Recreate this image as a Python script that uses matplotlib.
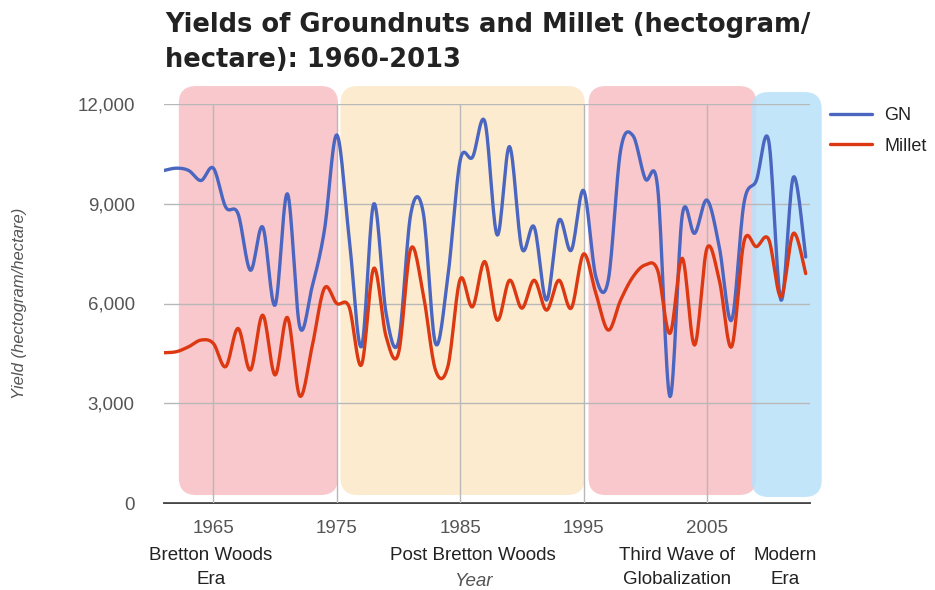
import numpy as np
import matplotlib
matplotlib.use("Agg")
import matplotlib.pyplot as plt
from matplotlib.patches import FancyBboxPatch

# yearly yields, hectogram/hectare
years = list(range(1961, 2014))
gn = [10000, 10070, 10000, 9700, 10070, 8900, 8700, 7000, 8300, 5950,
      9300, 5300, 6500, 8200, 11070, 8000, 4700, 9000, 5700, 4850,
      8700, 8750, 4800, 6800, 10300, 10400, 11470, 8060, 10720, 7660,
      8300, 6100, 8500, 7600, 9400, 6800, 6700, 10600, 11050, 9750,
      9500, 3200, 8660, 8110, 9110, 7700, 5500, 9020, 9700, 10900,
      6100, 9800, 7400]
millet = [4520, 4550, 4700, 4900, 4800, 4100, 5250, 4000, 5650, 3850,
          5580, 3220, 4700, 6460, 6000, 5900, 4150, 7060, 5000, 4500,
          7650, 6300, 4000, 4100, 6730, 5900, 7260, 5500, 6700, 5860,
          6700, 5800, 6700, 5860, 7490, 6300, 5200, 6100, 6800, 7160,
          7000, 5100, 7360, 4750, 7660, 6700, 4700, 7860, 7710, 7930,
          6200, 8110, 6900]

era_names = ["Bretton Woods\nEra", "Post Bretton Woods", "Third Wave of\nGlobalization", "Modern\nEra"]
era_spans = [(1962.2, 1975.1), (1975.3, 1995.1), (1995.4, 2009.0), (2008.6, 2014.3)]
era_colors = ["#f9c8cc", "#fdebcf", "#b9e1fa"]
era_color_idx = [0, 1, 0, 2]
era_label_x = [1964.8, 1986.0, 2002.6, 2011.3]

yticks = [0, 3000, 6000, 9000, 12000]
xticks = [1965, 1975, 1985, 1995, 2005]


def catmull(x, y, n=16):
    # smooth curve through the points (like curveType 'function')
    x = np.asarray(x, float)
    y = np.asarray(y, float)
    xs, ys = [], []
    for i in range(len(x) - 1):
        i0, i3 = max(i - 1, 0), min(i + 2, len(x) - 1)
        t = np.linspace(0, 1, n, endpoint=False)
        for arr, out in ((x, xs), (y, ys)):
            p0, p1, p2, p3 = arr[i0], arr[i], arr[i + 1], arr[i3]
            out.extend(0.5 * (2 * p1 + (-p0 + p2) * t + (2 * p0 - 5 * p1 + 4 * p2 - p3) * t ** 2
                              + (-p0 + 3 * p1 - 3 * p2 + p3) * t ** 3))
    xs.append(x[-1])
    ys.append(y[-1])
    return np.array(xs), np.array(ys)


W, H = 935, 590
fig = plt.figure(figsize=(W / 100, H / 100), dpi=100)
ax = fig.add_axes([164 / W, (H - 503) / H, (810 - 164) / W, 399 / H])
ax.set_xlim(1961, 2013.35)
ax.set_ylim(0, 12000)

# rounded era boxes
px_per_year = (810 - 164) / (2013.35 - 1961)
units_per_px = 12000 / 399
aspect = units_per_px * px_per_year
for (x0, x1), ci in zip(era_spans, era_color_idx):
    y0, y1 = 240, 12540
    if ci == 2:
        y0, y1 = 180, 12360
    box = FancyBboxPatch((x0, y0), x1 - x0, y1 - y0,
                         boxstyle="round,pad=0,rounding_size=1.4",
                         mutation_aspect=aspect,
                         fc=era_colors[ci], ec="none", alpha=0.85 if ci == 2 else 1.0,
                         zorder=0.5, clip_on=False)
    ax.add_patch(box)

ax.set_axisbelow(False)
ax.grid(True, color="#b8b8b8", lw=1, zorder=1)
for sp in ["top", "right", "left"]:
    ax.spines[sp].set_visible(False)
ax.spines["bottom"].set_color("#333333")
ax.spines["bottom"].set_linewidth(1.3)

xs, ys = catmull(years, gn)
ax.plot(xs, ys, color="#4a66c0", lw=2.4, label="GN", zorder=3, solid_capstyle="round")
xs, ys = catmull(years, millet)
ax.plot(xs, ys, color="#dc3912", lw=2.4, label="Millet", zorder=3, solid_capstyle="round")

sans = ["Liberation Sans", "DejaVu Sans"]
ax.set_yticks(yticks)
ax.set_yticklabels([f"{v:,}" for v in yticks], family=sans, fontsize=13.5, color="#555555")
ax.set_xticks(xticks)
ax.set_xticklabels([str(v) for v in xticks], family=sans, fontsize=13.5, color="#555555")
ax.tick_params(length=0, pad=12)
ax.tick_params(axis="y", pad=21)

ax.set_ylabel("Yield (hectogram/hectare)", family=sans, style="italic", fontsize=12,
              color="#555555", labelpad=36)

for name, lx in zip(era_names, era_label_x):
    ax.text(lx, -1330, name, ha="center", va="top", family=sans, fontsize=13.5,
            color="#222222", linespacing=1.55)
ax.text(1986.1, -2110, "Year", ha="center", va="top", family=sans, style="italic",
        fontsize=13.5, color="#555555")

fig.text(165 / W, 1 - 12 / H, "Yields of Groundnuts and Millet (hectogram/\nhectare): 1960-2013",
         ha="left", va="top", family=["DejaVu Sans"], fontweight="bold",
         fontsize=18.5, color="#222222", linespacing=1.45)

leg = ax.legend(loc="upper left", bbox_to_anchor=(823 / W, 1 - 100 / H),
                bbox_transform=fig.transFigure, frameon=False,
                prop={"family": sans, "size": 13}, handlelength=2.3, labelspacing=0.75,
                handletextpad=0.7, borderaxespad=0)
for t in leg.get_texts():
    t.set_color("#222222")

fig.savefig("out.png", dpi=100)
